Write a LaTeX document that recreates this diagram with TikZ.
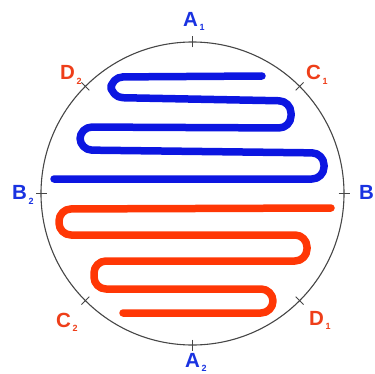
\documentclass[tikz,border=0pt]{standalone}
\usepackage{fontspec}
\setmainfont{Liberation Sans}
\usetikzlibrary{calc}
\definecolor{lblue}{RGB}{25,50,225}
\definecolor{lred}{RGB}{238,62,25}
\definecolor{sblue}{RGB}{12,22,225}
\definecolor{sred}{RGB}{255,55,5}
\definecolor{circ}{RGB}{70,70,70}
\newcommand{\lab}[2]{\fontsize{20.5}{21}\selectfont\bfseries #1\hspace{1.5pt}\raisebox{-4.5pt}{\fontsize{9}{9}\selectfont\bfseries #2}}
\begin{document}
\begin{tikzpicture}[x=1pt,y=-1pt,
  lbl/.style={inner sep=0pt,anchor=base west},
  tick/.style={circ,line width=1pt},
  snake/.style={line width=7.5pt,line cap=round,line join=round,rounded corners=12pt}]
\useasboundingbox (0,0) rectangle (374,374);
\coordinate (O) at (192.5,193.5);
\draw[circ,line width=1.1pt] (O) circle[radius=151.5pt];
\foreach \a in {90,270,0,180,45,225,135,315}{
  \draw[tick] ($(O)+(\a:146pt)$) -- ($(O)+(\a:157pt)$);
}
\node[lbl,text=lblue] (A1) at (183,26.5) {\lab{A}{1}};
\node[lbl,text=lblue] (A2) at (185,367) {\lab{A}{2}};
\node[lbl,text=lblue] (B2) at (12,199.5) {\lab{B}{2}};
\node[lbl,text=lblue] (B1) at (359,199.5) {\fontsize{20.5}{21}\selectfont\bfseries B};
\node[lbl,text=lred] (C1) at (306,80) {\lab{C}{1}};
\node[lbl,text=lred] (D2) at (60,80) {\lab{D}{2}};
\node[lbl,text=lred] (C2) at (56,327) {\lab{C}{2}};
\node[lbl,text=lred] (D1) at (309,325) {\lab{D}{1}};
\draw[snake,sblue] (262,76) -- (111,77) -- (111,97.5) -- (291,101) -- (291,128) -- (80,127) -- (80,150) -- (324,153) -- (324,179) -- (54,179);
\draw[snake,sred] (331,208) -- (59,209) -- (59,235) -- (307,235) -- (307,261) -- (94,261) -- (94,289) -- (273,289) -- (273,313) -- (123,313);
\end{tikzpicture}
\end{document}
